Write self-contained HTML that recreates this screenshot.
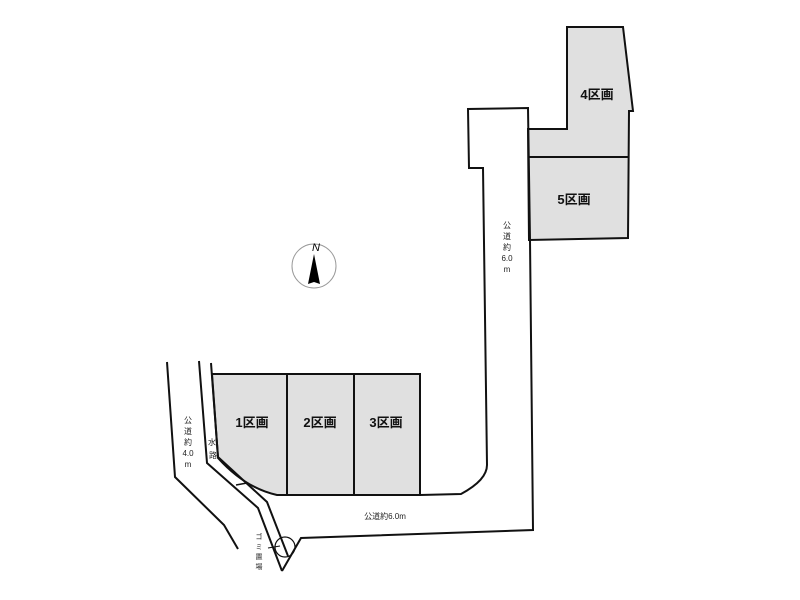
<!DOCTYPE html>
<html><head><meta charset="utf-8"><style>
body{margin:0;background:#fff;width:800px;height:600px;overflow:hidden}
svg{display:block}
text{font-family:"Liberation Sans","Noto Sans CJK JP",sans-serif}
</style></head><body>
<svg width="800" height="600" viewBox="0 0 800 600">
<g stroke="#111" stroke-width="2" fill="none">
<!-- lots 1-3 -->
<path d="M212,374 L420,374 L420,495 L277,495 Q245,488 218,458 Z" fill="#e0e0e0"/>
<line x1="287" y1="374" x2="287" y2="495"/>
<line x1="354" y1="374" x2="354" y2="495"/>
<!-- lots 4,5 -->
<path d="M567,27 L623,27 L633,111 L629,111 L628,238 L529,240 L528,129 L567,129 Z" fill="#e0e0e0"/>
<line x1="528" y1="157" x2="628" y2="157"/>
<!-- road -->
<path d="M420,495 L461,494 Q487,480 487,465 L483,168 L469,168 L468,109 L528,108 L530,240 L533,530 L301,538 L282,571"/>
<!-- left lines -->
<polyline points="167,362 175,477 224,525 238,549"/>
<polyline points="199,361 207,463 258,508 282,571"/>
<polyline points="211,363 218,457 267,502 288,556"/>
<line x1="236" y1="485" x2="247" y2="483" stroke-width="1.5"/>
<circle cx="285" cy="547" r="10" stroke-width="1.2"/>
<line x1="268" y1="548" x2="280" y2="546" stroke-width="1"/>
</g>
<!-- compass -->
<circle cx="314" cy="266" r="22" fill="none" stroke="#999" stroke-width="1"/>
<polygon points="314,254 308,284 314,282 320,284" fill="#000"/>
<text x="316" y="251" font-size="11" font-style="italic" font-family="Liberation Serif,serif" text-anchor="middle">N</text>
<g font-weight="bold" font-size="13" text-anchor="middle" fill="#111">
<text x="252" y="427">1区画</text>
<text x="320" y="427">2区画</text>
<text x="386" y="427">3区画</text>
<text x="597" y="99">4区画</text>
<text x="574" y="204">5区画</text>
</g>
<g font-size="8" text-anchor="middle" fill="#222">
<text x="385" y="519">公道約6.0m</text>
<text x="188" y="423">公</text><text x="188" y="434">道</text><text x="188" y="445">約</text><text x="188" y="456">4.0</text><text x="188" y="467">m</text>
<text x="212" y="445">水</text><text x="213" y="458">路</text>
<text x="507" y="228">公</text><text x="507" y="239">道</text><text x="507" y="250">約</text><text x="507" y="261">6.0</text><text x="507" y="272">m</text>
<text x="259" y="539" font-size="7">ゴ</text><text x="259" y="549" font-size="7">ミ</text><text x="259" y="559" font-size="7">置</text><text x="259" y="569" font-size="7">場</text>
</g>
</svg>
</body></html>
